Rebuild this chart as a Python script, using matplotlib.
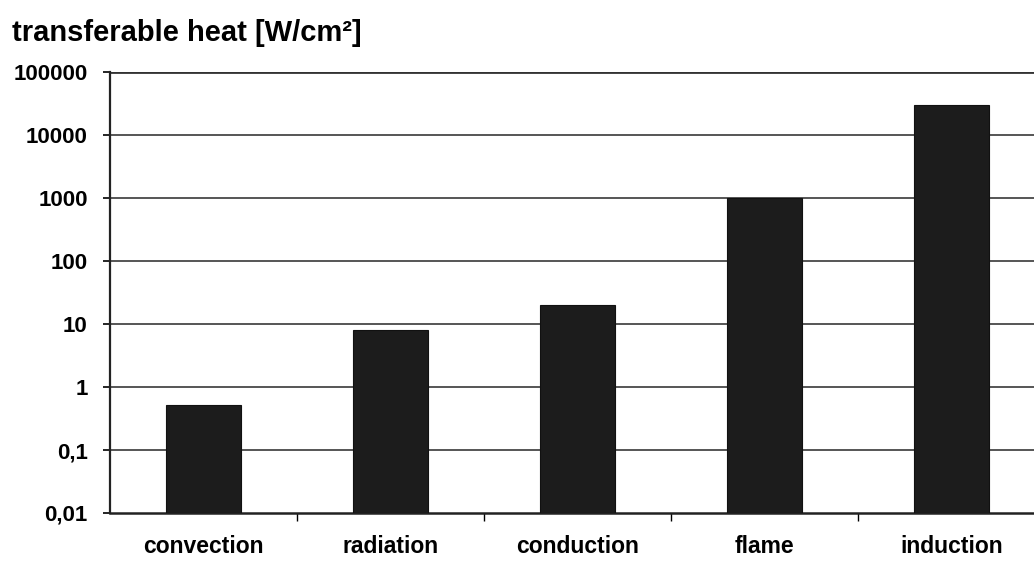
import numpy as np
import matplotlib.pyplot as plt
from matplotlib.ticker import FixedLocator

plt.rcParams['font.family'] = ['Liberation Sans', 'DejaVu Sans']

methods = ['convection', 'radiation', 'conduction', 'flame', 'induction']
heat = [0.5, 8, 20, 1000, 30000]
ytick_vals = [0.01, 0.1, 1, 10, 100, 1000, 10000, 100000]
ytick_labels = ['0,01', '0,1', '1', '10', '100', '1000', '10000', '100000']

fig = plt.figure(figsize=(10.34, 5.63), dpi=100)
ax = fig.add_axes([110 / 1034, 1 - 513 / 563, 935 / 1034, 441 / 563])

x = np.arange(len(methods))
ax.set_yscale('log')
ax.set_ylim(0.01, 100000)
ax.set_xlim(-0.5, len(methods) - 0.5)

for v in ytick_vals[1:]:
    ax.axhline(v, color='#555555', lw=1.4, zorder=1)
ax.axhline(100000, color='#333333', lw=2.0, zorder=1)

ax.bar(x, heat, width=0.4, bottom=0.01, color='#1c1c1c', edgecolor='#111111',
       lw=0.8, zorder=3)

ax.yaxis.set_major_locator(FixedLocator(ytick_vals))
ax.yaxis.set_minor_locator(FixedLocator([]))
ax.set_yticklabels(ytick_labels, fontsize=16, fontweight='bold')
ax.tick_params(axis='y', length=5, width=1.2, pad=11)

ax.set_xticks(x)
ax.set_xticklabels(methods, fontsize=16.5, fontweight='bold')
ax.xaxis.set_minor_locator(FixedLocator(x[:-1] + 0.5))
ax.tick_params(axis='x', which='major', length=0, pad=16)
ax.tick_params(axis='x', which='minor', length=6, width=1.0, direction='out')

for side in ['top', 'right']:
    ax.spines[side].set_visible(False)
ax.spines['left'].set_linewidth(1.6)
ax.spines['bottom'].set_linewidth(1.8)
ax.spines['left'].set_color('#222222')
ax.spines['bottom'].set_color('#222222')

fig.text(12 / 1034, 1 - 33 / 563, 'transferable heat [W/cm²]', fontsize=21,
         fontweight='bold', va='center', ha='left')

fig.savefig('out.png', dpi=100)
